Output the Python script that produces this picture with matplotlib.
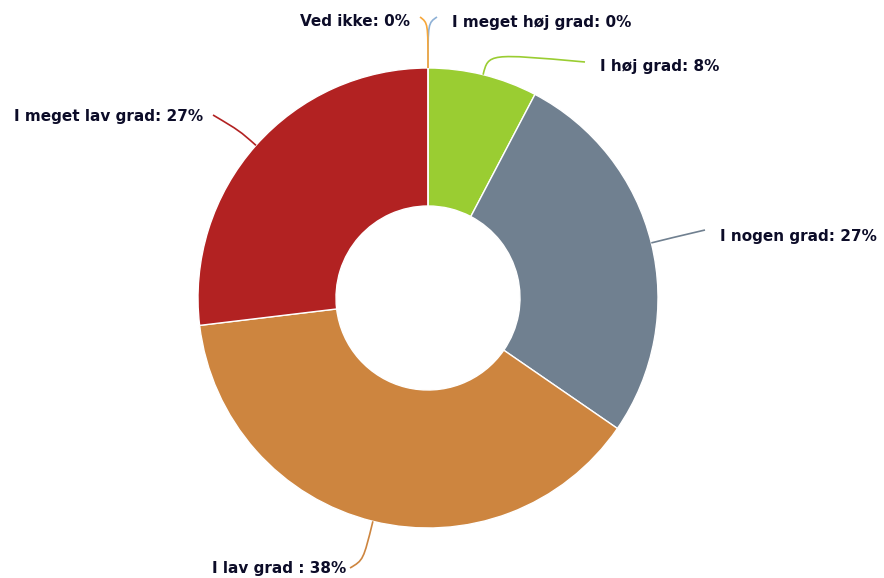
import numpy as np
import matplotlib.pyplot as plt
from matplotlib.path import Path
from matplotlib.patches import PathPatch

# answers, clockwise from 12 o'clock
categories = ['I meget høj grad', 'I høj grad', 'I nogen grad', 'I lav grad',
              'I meget lav grad', 'Ved ikke']
values = [0.0, 7.7, 26.9, 38.5, 26.9, 0.0]
label_text = ['I meget høj grad: 0%', 'I høj grad: 8%', 'I nogen grad: 27%',
              'I lav grad : 38%', 'I meget lav grad: 27%', 'Ved ikke: 0%']
colors = ['#8eb1d6', '#9acd32', '#708090', '#cd853f', '#b22222', '#f7a73a']

W, H = 884, 578
cx, cy = 428, H - 298
R, r_in = 230, 92

# label layout in image pixels: connector end, text anchor, alignment, crook distance
conn_end = [(437, 17), (585, 62), (705, 230), (350, 568), (213, 115), (420, 17)]
text_pos = [(452, 22), (600, 67), (720, 236), (346, 569), (203, 116), (410, 22)]
align = ['left', 'left', 'left', 'right', 'right', 'right']
crook = [45, 22, 22, 40, 22, 45]

fig = plt.figure(figsize=(W / 100, H / 100), dpi=100)
ax = fig.add_axes([0, 0, 1, 1])
ax.axis('off')

ax.pie(values, colors=colors, startangle=90, counterclock=False,
       radius=R, center=(cx, cy),
       wedgeprops=dict(width=R - r_in, edgecolor='white', linewidth=1))
ax.set_xlim(0, W)
ax.set_ylim(0, H)
ax.set_aspect('equal')

total = sum(values)
start = 0.0
for i, v in enumerate(values):
    mid = np.deg2rad((start + v / 2) / total * 360)
    start += v
    p0 = (cx + R * np.sin(mid), cy + R * np.cos(mid))
    c1 = (cx + (R + crook[i]) * np.sin(mid), cy + (R + crook[i]) * np.cos(mid))
    p2 = (conn_end[i][0], H - conn_end[i][1])
    path = Path([p0, c1, c1, p2], [Path.MOVETO, Path.CURVE4, Path.CURVE4, Path.CURVE4])
    ax.add_patch(PathPatch(path, fill=False, edgecolor=colors[i], linewidth=1.2))
    ax.text(text_pos[i][0], H - text_pos[i][1], label_text[i], ha=align[i],
            va='center', fontsize=11, fontweight='bold', color='#0c0c28')

fig.savefig('out.png', dpi=100)
